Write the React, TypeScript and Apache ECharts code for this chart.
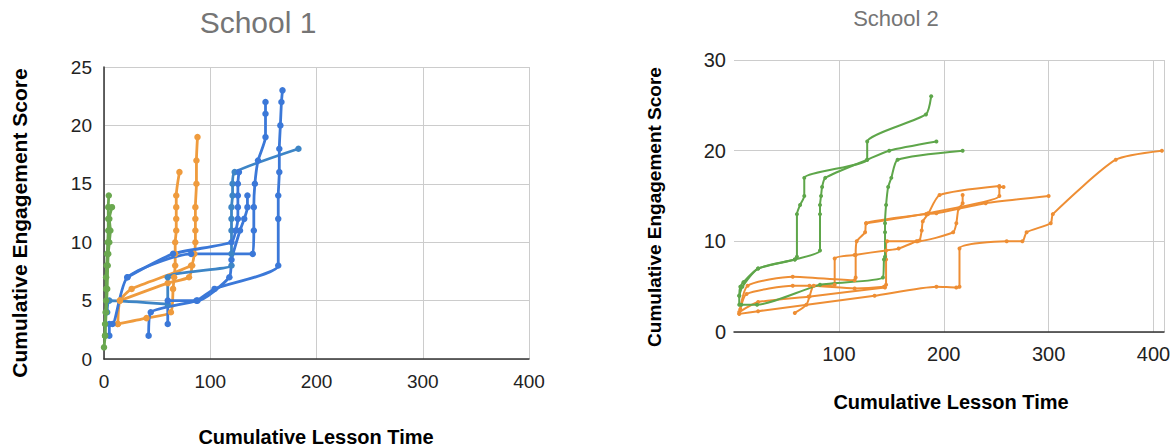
import React, { useEffect, useRef } from "react";
import * as echarts from "echarts";

// ---------- School 1 ----------
const s1Green = [
  [[0, 1], [1, 2], [1, 3], [1.5, 4], [2, 5], [2, 6], [2, 7], [2.5, 8], [3, 9], [3.5, 10], [4, 11], [4, 12], [4, 13], [4.5, 14]],
  [[1, 2], [2, 4], [3, 6], [3.5, 8], [4, 9], [5, 10], [6, 11], [5, 12], [7.5, 13]],
];
const s1Orange = [
  [[13, 3], [40, 3.5], [63, 4], [65, 6], [66, 7], [67, 8], [67, 9], [67, 10], [68, 11], [68, 12], [68, 13], [68, 14], [71, 16]],
  [[13, 3], [15, 5], [26, 6], [82, 8], [85, 9], [86, 10], [86, 11], [86, 12], [86, 13], [87, 15], [87, 17], [88, 19]],
  [[15, 5], [60, 6.5], [80, 7], [83, 8]],
];
const s1Blue = [
  [[42, 2], [44, 4], [87, 5], [104, 6], [164, 8], [164, 12], [164, 14], [165, 16], [165, 18], [166, 20], [167, 22], [168, 23]],
  [[5, 2], [5, 3], [8, 3], [22, 7], [82, 9], [140, 9], [141, 11], [141, 13], [142, 15], [145, 17], [152, 19], [152, 21], [152, 22]],
  [[22, 7], [65, 9], [120, 10], [124, 11], [126, 12], [126, 13], [126, 14], [126, 15], [127, 16]],
  [[60, 3], [60, 5], [88, 5], [118, 7], [120, 8.5], [128, 11], [132, 12], [135, 13], [135, 14]],
];
const s1Teal = [
  [[3, 4], [5, 5], [60, 4.7], [60, 7], [120, 8], [120, 9], [120, 11], [120, 12], [120, 13], [121, 14], [121, 15], [123, 16], [183, 18]],
];
const s1XTicks = [0, 100, 200, 300, 400];
const s1YTicks = [0, 5, 10, 15, 20, 25];

// ---------- School 2 ----------
const s2Green = [
  [[5, 3], [5, 4], [6, 5], [9, 5.5], [23, 7], [58, 8], [60, 8.3], [60, 13], [63, 14], [67, 15], [67, 17], [127, 19], [127, 21], [183, 24], [188, 26]],
  [[5, 4], [8, 5], [23, 7], [58, 8], [82, 9], [82, 13], [82, 14], [83, 15], [84, 16], [87, 17], [127, 19], [148, 20], [193, 21]],
  [[7, 3], [22, 3], [82, 5.2], [142, 6], [143, 8], [144, 8.3], [144, 11], [144, 12], [145, 14], [147, 16], [150, 17], [156, 19], [218, 20]],
];
const s2Orange = [
  [[5, 2], [23, 2.3], [134, 4], [193, 5], [212, 4.9], [215, 5], [215, 9.2], [260, 10], [275, 10], [279, 11], [302, 12], [304, 13], [364, 19], [408, 20]],
  [[5, 2], [13, 5.1], [56, 6.1], [115, 5.7], [116, 6], [116, 8.5], [117, 10], [125, 11], [126, 12], [183, 13], [193, 13.1], [240, 14.2], [300, 15]],
  [[6, 2.5], [12, 4.2], [56, 5.1], [72, 5.1], [115, 4.8], [143, 5], [145, 5.2], [145, 8], [146, 10], [175, 10], [209, 11], [212, 12], [214, 13.6], [218, 14.2], [218, 15.1]],
  [[5, 2.2], [23, 3.3], [71, 3.9], [144, 4.9]],
  [[58, 2.1], [69, 3], [72, 3.9], [76, 5.1], [96, 5.2], [96, 8.1], [115, 8.5], [145, 9], [157, 9.2], [174, 10], [177, 10.1], [179, 11.2], [180, 12.2], [185, 13], [196, 15.1], [253, 16.1]],
  [[126, 12], [185, 13.1], [253, 15], [253, 16], [257, 16]],
];
const s2XTicks = [0, 100, 200, 300, 400];
const s2YTicks = [0, 10, 20, 30];

const FONT = "'Liberation Sans', Arial, sans-serif";

function mk(data: number[][], color: string, idx: number, size: number, width: number) {
  return {
    type: "line",
    xAxisIndex: idx,
    yAxisIndex: idx,
    data,
    smooth: 0.2,
    symbol: "circle",
    symbolSize: size,
    showSymbol: true,
    itemStyle: { color },
    lineStyle: { color, width },
    emphasis: { disabled: true },
    silent: true,
  };
}

export default function App() {
  const ref = useRef<HTMLDivElement>(null);
  useEffect(() => {
    if (!ref.current) return;
    const chart = echarts.init(ref.current, null, { renderer: "svg" });
    const gx = (gridIndex: number, min: number, max: number, step: number, labelsShown: number[], showMin: boolean, axisLine: boolean, margin: number, fs: number) => ({
      type: "value",
      gridIndex,
      min,
      max,
      interval: step,
      axisLine: { show: axisLine, onZero: false, lineStyle: { color: "#333", width: 1.5 } },
      axisTick: { show: false },
      splitLine: { show: true, showMinLine: showMin, lineStyle: { color: "#cccccc", width: 1 } },
      axisLabel: {
        margin,
        color: "#222",
        fontSize: fs,
        fontFamily: FONT,
        formatter: (v: number) => (labelsShown.includes(v) ? String(v) : ""),
      },
    });
    const series: any[] = [];
    s1Orange.forEach((d) => series.push(mk(d, "#ef9b3d", 0, 6.5, 2.8)));
    s1Teal.forEach((d) => series.push(mk(d, "#3d85c6", 0, 6.5, 2.8)));
    s1Blue.forEach((d) => series.push(mk(d, "#3b78d8", 0, 6.5, 2.8)));
    s1Green.forEach((d) => series.push(mk(d, "#6aa84f", 0, 6.5, 2.8)));
    s2Orange.forEach((d) => series.push(mk(d, "#ee8e34", 1, 4, 2)));
    s2Green.forEach((d) => series.push(mk(d, "#5ea64a", 1, 4, 2)));

    chart.setOption({
      animation: false,
      backgroundColor: "#ffffff",
      grid: [
        { left: 104, top: 67, width: 425, height: 292 },
        { left: 734, top: 60, width: 430, height: 272 },
      ],
      xAxis: [
        gx(0, s1XTicks[0], s1XTicks[s1XTicks.length - 1], 100, s1XTicks, true, true, 13, 19),
        gx(1, 0, 410, 100, s2XTicks.filter((v) => v > 0), false, true, 12, 20),
      ],
      yAxis: [
        gx(0, s1YTicks[0], s1YTicks[s1YTicks.length - 1], 5, s1YTicks, true, true, 12, 19),
        gx(1, s2YTicks[0], s2YTicks[s2YTicks.length - 1], 10, s2YTicks, true, false, 8, 20),
      ],
      series,
      graphic: [
        { type: "text", x: 258, y: 22, style: { text: "School 1", fill: "#757575", font: `30px ${FONT}`, align: "center", verticalAlign: "middle" } },
        { type: "text", x: 896, y: 18, style: { text: "School 2", fill: "#757575", font: `22px ${FONT}`, align: "center", verticalAlign: "middle" } },
        { type: "text", x: 316, y: 437, style: { text: "Cumulative Lesson Time", fill: "#000", font: `bold 20px ${FONT}`, align: "center", verticalAlign: "middle" } },
        { type: "text", x: 951, y: 402, style: { text: "Cumulative Lesson Time", fill: "#000", font: `bold 20px ${FONT}`, align: "center", verticalAlign: "middle" } },
        { type: "text", x: 19, y: 223, rotation: Math.PI / 2, style: { text: "Cumulative Engagement Score", fill: "#000", font: `bold 21px ${FONT}`, align: "center", verticalAlign: "middle" } },
        { type: "text", x: 654, y: 207, rotation: Math.PI / 2, style: { text: "Cumulative Engagement Score", fill: "#000", font: `bold 19px ${FONT}`, align: "center", verticalAlign: "middle" } },
      ],
    });
    return () => chart.dispose();
  }, []);
  return <div ref={ref} style={{ position: "fixed", left: 0, top: 0, width: 1174, height: 447 }} />;
}
